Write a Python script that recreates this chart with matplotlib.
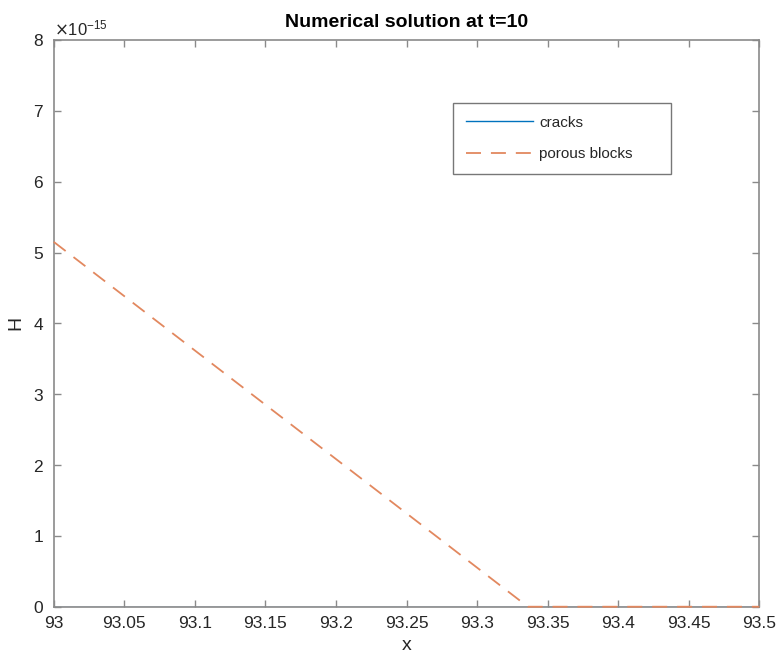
import matplotlib
matplotlib.use("Agg")
import matplotlib.pyplot as plt
from matplotlib.ticker import ScalarFormatter

plt.rcParams['font.family'] = ['Liberation Sans', 'DejaVu Sans']

# Data
x_cracks = [93.0, 93.5]
h_cracks = [0.0, 0.0]
x_porous = [93.0, 93.336, 93.5]
h_porous = [5.15e-15, 0.0, 0.0]
xticks = [93, 93.05, 93.1, 93.15, 93.2, 93.25, 93.3, 93.35, 93.4, 93.45, 93.5]
xticklabels = ['93', '93.05', '93.1', '93.15', '93.2', '93.25', '93.3', '93.35', '93.4', '93.45', '93.5']
yticks = [i * 1e-15 for i in range(9)]

fig = plt.figure(figsize=(7.79, 6.62), dpi=100)
ax = fig.add_axes([0.069, 0.0835, 0.9057, 0.8561])

axcol = '#8a8a8a'
txtcol = '#262626'

ax.plot(x_cracks, h_cracks, color='#0072BD', lw=1.0, label='cracks', zorder=1)
ax.plot(x_porous, h_porous, color='#E2885F', lw=1.3, dashes=(8.3, 5.5), label='porous blocks',
        zorder=3, clip_on=False)

ax.set_xlim(93, 93.5)
ax.set_ylim(0, 8e-15)
ax.set_xticks(xticks)
ax.set_xticklabels(xticklabels)
ax.set_yticks(yticks)
fmt = ScalarFormatter(useMathText=True)
fmt.set_powerlimits((0, 0))
ax.yaxis.set_major_formatter(fmt)
ax.yaxis.get_offset_text().set_fontsize(12)
ax.yaxis.get_offset_text().set_color(txtcol)

for s in ax.spines.values():
    s.set_color(axcol)
    s.set_linewidth(1.2)
    s.set_zorder(2)
ax.tick_params(direction='in', top=True, right=True, length=5, width=1, color=axcol,
               labelsize=12.5, labelcolor=txtcol, pad=7)

ax.set_xlabel('x', fontsize=14, color=txtcol, labelpad=4)
ax.set_ylabel('H', fontsize=14, color=txtcol, labelpad=6)
ax.set_title('Numerical solution at t=10', fontsize=14, fontweight='bold', color='black', pad=9)

leg = ax.legend(loc='upper left', bbox_to_anchor=(0.566, 0.7895, 0.309, 0.1), mode='expand',
                fontsize=11, frameon=True,
                fancybox=False, edgecolor='#555555', handlelength=4.4, borderpad=0.85,
                labelspacing=1.15, handletextpad=0.4, borderaxespad=0)
leg.get_frame().set_linewidth(1.0)
for t in leg.get_texts():
    t.set_color(txtcol)

fig.savefig('out.png', dpi=100)
